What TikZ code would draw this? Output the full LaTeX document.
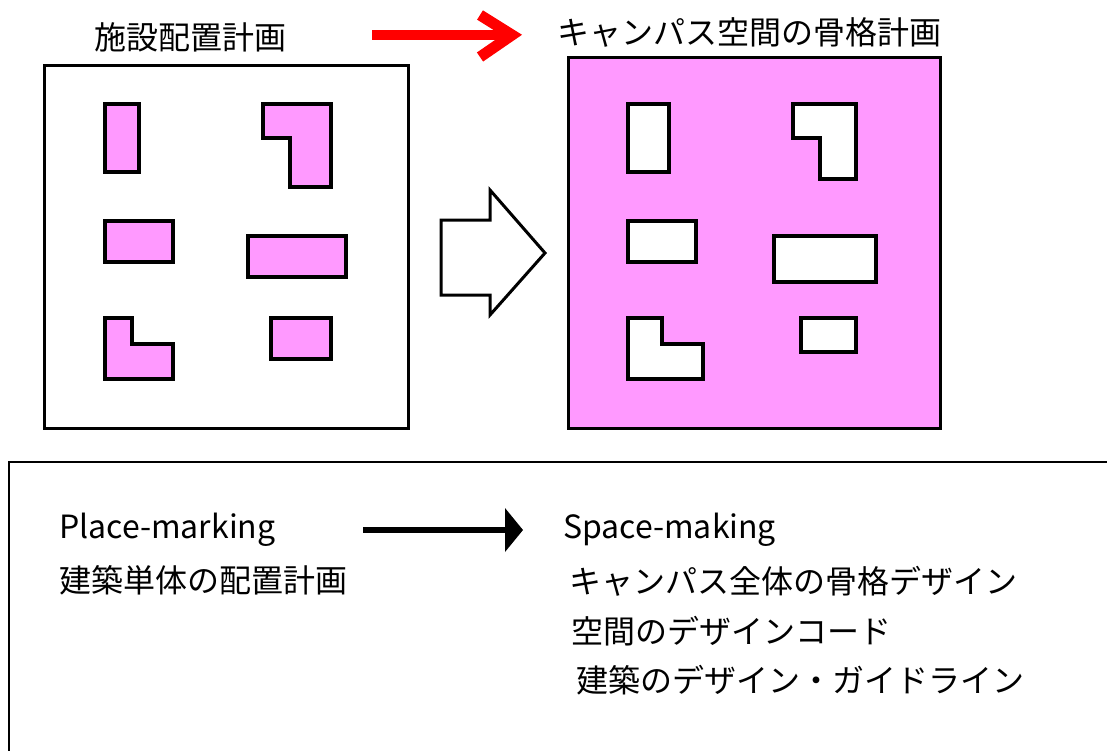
\documentclass[tikz,border=0pt]{standalone}
\usepackage{fontspec}
\setmainfont{Noto Sans CJK JP}
\begin{document}
\begin{tikzpicture}[x=1pt,y=-1pt,
  bldg/.style={line width=4.5pt,line join=miter},
  site/.style={line width=3pt},
  lbl/.style={inner sep=0pt,anchor=west,font=\fontsize{32}{32}\selectfont},
]
\useasboundingbox (0,0) rectangle (1107,750);
\clip (0,0) rectangle (1107,750);
\definecolor{pinkfill}{RGB}{255,153,255}

% left site
\draw[site,fill=white] (44,65) rectangle (408,428);
\draw[bldg,fill=pinkfill] (105,104) rectangle (139,172);
\draw[bldg,fill=pinkfill] (263,104) -- (331,104) -- (331,187) -- (290,187) -- (290,138) -- (263,138) -- cycle;
\draw[bldg,fill=pinkfill] (105,221) rectangle (173,262);
\draw[bldg,fill=pinkfill] (248,236) rectangle (346,277);
\draw[bldg,fill=pinkfill] (105,318) -- (132,318) -- (132,344) -- (173,344) -- (173,379) -- (105,379) -- cycle;
\draw[bldg,fill=pinkfill] (271,318) rectangle (331,359);

% right site
\draw[site,fill=pinkfill] (568,57) rectangle (940,428);
\draw[bldg,fill=white] (628,104) rectangle (669,172);
\draw[bldg,fill=white] (793,104) -- (856,104) -- (856,179) -- (820,179) -- (820,138) -- (793,138) -- cycle;
\draw[bldg,fill=white] (628,221) rectangle (696,262);
\draw[bldg,fill=white] (774,236) rectangle (876,282);
\draw[bldg,fill=white] (628,318) -- (662,318) -- (662,344) -- (703,344) -- (703,379) -- (628,379) -- cycle;
\draw[bldg,fill=white] (801,318) rectangle (856,352);

% block arrow
\draw[line width=3pt,fill=white,line join=miter] (441,220) -- (490,220) -- (490,190) -- (545,253) -- (490,315) -- (490,295) -- (441,295) -- cycle;

% titles
\node[lbl] (t1) at (94,37) {施設配置計画};
\node[lbl] (t2) at (557,32) {キャンパス空間の骨格計画};

% red arrow
\coordinate (ra) at (372,35);
\coordinate (rb) at (508,35);
\draw[red,line width=10pt] (ra) -- (rb);
\draw[red,line width=11pt,line join=miter] (480,15) -- (512,35) -- (480,57);

% bottom box
\draw[line width=1.5pt] (9,800) -- (9,462) -- (1200,462);

% bottom texts
\node[lbl] (pm) at (59,530) {Place-marking};
\node[lbl] (pj) at (59,580) {建築単体の配置計画};
\node[lbl] (sm) at (563,530) {Space-making};
\node[lbl] (s1) at (569,581) {キャンパス全体の骨格デザイン};
\node[lbl] (s2) at (571,631) {空間のデザインコード};
\node[lbl] (s3) at (576,680) {建築のデザイン・ガイドライン};

% black arrow
\coordinate (ba) at (363,530);
\coordinate (bb) at (507,530);
\draw[line width=6pt] (ba) -- (bb);
\fill (505,508) -- (523,530) -- (505,552) -- cycle;
\end{tikzpicture}
\end{document}
